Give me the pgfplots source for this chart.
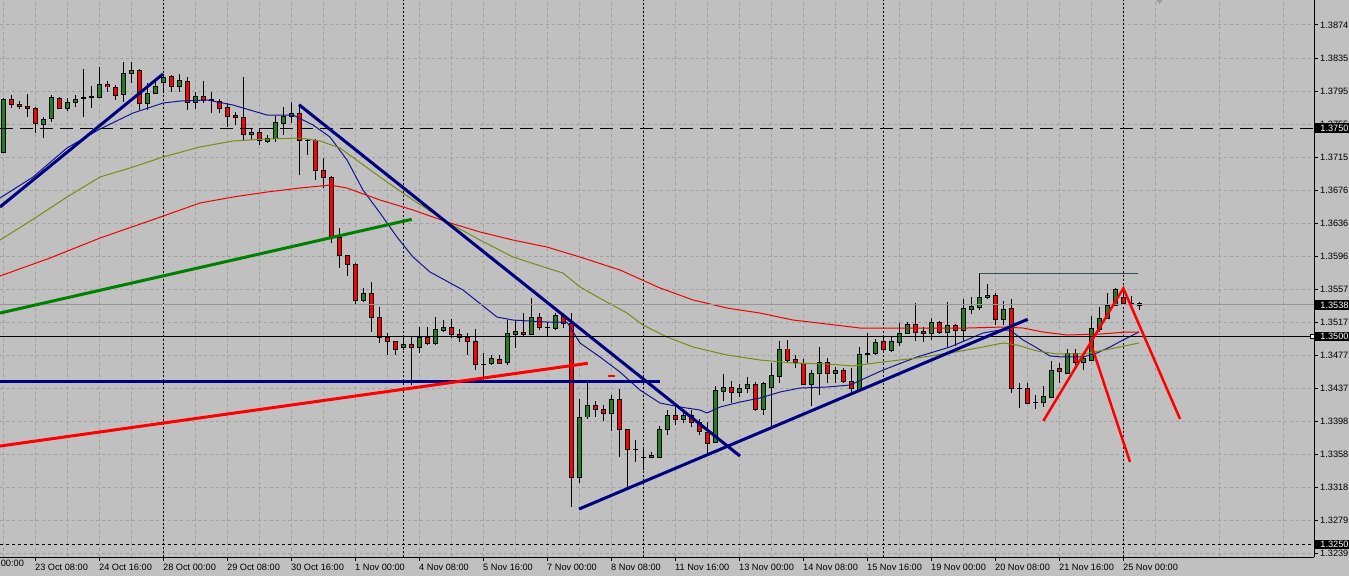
\documentclass[border=0pt]{standalone}
\usepackage{fontspec}
\setmainfont{Liberation Sans}
\usepackage{pgfplots}
\usepackage{pgfplotstable}
\pgfplotsset{compat=1.18}

\definecolor{bg}{RGB}{192,192,192}
\definecolor{gridc}{RGB}{160,160,160}
\definecolor{upc}{RGB}{30,130,30}
\definecolor{dnc}{RGB}{255,0,0}
\definecolor{ma1}{RGB}{20,20,150}
\definecolor{ma2}{RGB}{120,140,20}
\definecolor{ma3}{RGB}{240,0,0}
\definecolor{tl}{RGB}{0,0,128}
\definecolor{tg}{RGB}{0,128,0}
\definecolor{slate}{RGB}{47,79,79}
\definecolor{bidc}{RGB}{150,150,150}

% H4 candles, bullish (and doji)
\pgfplotstableread{
x o h l c
0 1.37214 1.37863 1.37202 1.37851
5 1.37550 1.37634 1.37382 1.37610
6 1.37610 1.37899 1.37574 1.37863
8 1.37742 1.37863 1.37706 1.37814
9 1.37814 1.37899 1.37754 1.37851
10 1.37865 1.38211 1.37634 1.37865
11 1.37875 1.38007 1.37742 1.37887
12 1.37875 1.38235 1.37863 1.38031
15 1.37911 1.38295 1.37814 1.38163
16 1.38163 1.38295 1.38043 1.38199
18 1.37802 1.38043 1.37718 1.37923
19 1.37923 1.38067 1.37923 1.38007
20 1.38055 1.38151 1.37935 1.38115
22 1.37995 1.38151 1.37935 1.38067
24 1.37814 1.37935 1.37730 1.37887
31 1.37430 1.37502 1.37358 1.37454
33 1.37346 1.37418 1.37322 1.37382
34 1.37382 1.37646 1.37334 1.37574
35 1.37562 1.37754 1.37418 1.37646
36 1.37646 1.37814 1.37562 1.37682
38 1.37358 1.37370 1.37178 1.37358
45 1.35436 1.35580 1.35412 1.35520
50 1.34871 1.34991 1.34835 1.34907
52 1.34871 1.35111 1.34799 1.34991
54 1.34919 1.35231 1.34895 1.35087
55 1.35075 1.35195 1.35051 1.35111
60 1.34667 1.34799 1.34474 1.34667
61 1.34667 1.34775 1.34655 1.34727
63 1.34679 1.35195 1.34655 1.35039
64 1.35027 1.35195 1.34859 1.35063
66 1.35027 1.35460 1.35015 1.35231
68 1.35111 1.35171 1.34991 1.35111
69 1.35099 1.35279 1.35075 1.35255
72 1.33309 1.34246 1.33237 1.34030
73 1.34030 1.34474 1.34006 1.34174
76 1.34078 1.34294 1.33862 1.34246
79 1.33645 1.33753 1.33489 1.33645
80 1.33549 1.33669 1.33393 1.33549
81 1.33549 1.33609 1.33549 1.33573
82 1.33549 1.33922 1.33549 1.33886
83 1.33886 1.34114 1.33814 1.34054
85 1.34006 1.34126 1.33958 1.34054
89 1.33729 1.34402 1.33729 1.34354
90 1.34342 1.34546 1.34222 1.34390
92 1.34330 1.34426 1.34270 1.34378
93 1.34378 1.34510 1.34318 1.34426
95 1.34126 1.34450 1.34054 1.34438
96 1.34390 1.34679 1.33910 1.34534
97 1.34522 1.34943 1.34438 1.34847
101 1.34426 1.34594 1.34162 1.34558
102 1.34558 1.34871 1.34294 1.34691
104 1.34558 1.34631 1.34438 1.34594
107 1.34354 1.34871 1.34354 1.34787
108 1.34787 1.35039 1.34679 1.34787
109 1.34787 1.34967 1.34775 1.34931
111 1.34835 1.34991 1.34811 1.34943
112 1.34931 1.35159 1.34883 1.35039
113 1.35039 1.35171 1.35027 1.35147
116 1.35039 1.35219 1.34955 1.35171
118 1.35051 1.35412 1.34871 1.35135
120 1.35075 1.35448 1.34931 1.35339
121 1.35327 1.35472 1.35267 1.35364
122 1.35352 1.35760 1.35315 1.35472
123 1.35472 1.35628 1.35448 1.35496
125 1.35207 1.35424 1.35135 1.35327
127 1.34378 1.34438 1.34138 1.34378
129 1.34210 1.34294 1.34126 1.34210
130 1.34210 1.34402 1.34150 1.34282
131 1.34270 1.34703 1.34258 1.34594
133 1.34558 1.34847 1.34558 1.34799
135 1.34691 1.34799 1.34594 1.34739
136 1.34715 1.35243 1.34703 1.35099
137 1.35087 1.35352 1.35051 1.35219
138 1.35219 1.35520 1.35207 1.35376
139 1.35376 1.35580 1.35364 1.35568
141 1.35400 1.35484 1.35364 1.35400
}\up

% bearish candles
\pgfplotstableread{
x o h l c
1 1.37851 1.37899 1.37742 1.37790
2 1.37790 1.37826 1.37730 1.37766
3 1.37766 1.37911 1.37634 1.37742
4 1.37742 1.37754 1.37442 1.37562
7 1.37863 1.37875 1.37730 1.37742
13 1.38019 1.38067 1.37935 1.37995
14 1.37995 1.38019 1.37839 1.37899
17 1.38199 1.38211 1.37718 1.37802
21 1.38127 1.38139 1.37935 1.38007
23 1.38067 1.38115 1.37718 1.37814
25 1.37887 1.38067 1.37802 1.37839
26 1.37839 1.37935 1.37682 1.37827
27 1.37827 1.37851 1.37682 1.37742
28 1.37754 1.37802 1.37514 1.37646
29 1.37658 1.37694 1.37538 1.37634
30 1.37634 1.38115 1.37358 1.37430
32 1.37454 1.37502 1.37298 1.37346
37 1.37682 1.37778 1.36937 1.37346
39 1.37358 1.37370 1.36877 1.36997
40 1.36997 1.37142 1.36781 1.36913
41 1.36913 1.36925 1.36120 1.36192
42 1.36192 1.36301 1.35820 1.35976
43 1.35976 1.35976 1.35724 1.35868
44 1.35868 1.35880 1.35388 1.35436
46 1.35520 1.35652 1.35051 1.35231
47 1.35231 1.35352 1.34919 1.34991
48 1.34991 1.35039 1.34775 1.34943
49 1.34943 1.34943 1.34775 1.34847
51 1.34907 1.34991 1.34414 1.34871
53 1.34991 1.35111 1.34895 1.34919
56 1.35111 1.35207 1.34979 1.35027
57 1.35027 1.35087 1.34931 1.34991
58 1.34991 1.35039 1.34775 1.34943
59 1.34943 1.35087 1.34594 1.34667
62 1.34727 1.34775 1.34667 1.34679
65 1.35051 1.35279 1.35003 1.35027
67 1.35231 1.35279 1.35075 1.35111
70 1.35255 1.35279 1.35099 1.35159
71 1.35159 1.35279 1.32948 1.33309
74 1.34174 1.34222 1.34030 1.34126
75 1.34126 1.34174 1.33982 1.34078
77 1.34246 1.34366 1.33549 1.33886
78 1.33886 1.33886 1.33177 1.33645
84 1.34054 1.34174 1.33934 1.34006
86 1.34054 1.34114 1.33910 1.33958
87 1.33958 1.34006 1.33814 1.33850
88 1.33850 1.33970 1.33597 1.33717
91 1.34390 1.34462 1.34198 1.34330
94 1.34426 1.34450 1.34102 1.34126
98 1.34847 1.34955 1.34679 1.34703
99 1.34727 1.34775 1.34618 1.34691
100 1.34679 1.34727 1.34414 1.34426
103 1.34691 1.34739 1.34438 1.34558
105 1.34594 1.34618 1.34438 1.34462
106 1.34462 1.34618 1.34318 1.34378
110 1.34943 1.34991 1.34811 1.34847
114 1.35147 1.35400 1.34943 1.35051
115 1.35063 1.35111 1.34931 1.35039
117 1.35171 1.35183 1.35027 1.35051
119 1.35135 1.35147 1.34883 1.35075
124 1.35496 1.35520 1.35135 1.35207
126 1.35339 1.35448 1.34318 1.34378
128 1.34378 1.34438 1.34186 1.34198
132 1.34607 1.34679 1.34438 1.34571
134 1.34799 1.34847 1.34655 1.34691
140 1.35472 1.35580 1.35376 1.35400
142 1.35400 1.35412 1.35315 1.35376
}\dn

\pgfplotsset{
  wick/.style={draw=none, mark=none, forget plot,
    error bars/.cd, y dir=both, y explicit, error mark=none,
    error bar style={draw=black, line width=1pt}},
  body/.style={draw=none, mark=none, forget plot,
    error bars/.cd, y dir=both, y explicit, error mark=none,
    error bar style={draw=#1, line width=5pt}},
  fillbody/.style={draw=none, mark=none, forget plot,
    error bars/.cd, y dir=both, y explicit, error mark=none,
    error bar style={draw=#1, line width=3pt}},
}

\begin{document}
\begin{tikzpicture}
\fill[bg] (0,0) rectangle (1349pt,576pt);
\begin{axis}[
  at={(0pt,19pt)}, anchor=south west,
  scale only axis, width=1314pt, height=557pt,
  xmin=-0.375, xmax=163.875,
  ymin=1.32348, ymax=1.39040,
  clip mode=individual,
  axis x line*=bottom, axis y line*=right,
  axis line style={-, black, line width=1pt},
  tick align=outside,
  xtick={4,12,...,140},
  xticklabels={23 Oct 08:00, 24 Oct 16:00, 28 Oct 00:00, 29 Oct 08:00, 30 Oct 16:00, 1 Nov 00:00, 4 Nov 08:00, 5 Nov 16:00, 7 Nov 00:00, 8 Nov 08:00, 11 Nov 16:00, 13 Nov 00:00, 14 Nov 08:00, 15 Nov 16:00, 19 Nov 00:00, 20 Nov 08:00, 21 Nov 16:00, 25 Nov 00:00},
  minor xtick={0,8,...,160},
  extra x ticks={20,50,80,110,140},
  extra x tick labels={},
  extra x tick style={grid=major, major grid style={black, line width=1pt, dash pattern=on 2pt off 2pt}, major tick length=0pt},
  ytick={1.32387,1.32784,1.33181,1.33578,1.33975,1.34372,1.34769,1.35166,1.35563,1.35960,1.36357,1.36754,1.37151,1.37548,1.37945,1.38343,1.38740},
  yticklabels={1.3239,1.3279,1.3318,1.3358,1.3398,1.3437,1.3477,1.3517,1.3557,1.3596,1.3636,1.3676,1.3715,1.3755,1.3795,1.3835,1.3874},
  scaled y ticks=false,
  xmajorgrids, xminorgrids, ymajorgrids,
  grid style={gridc, line width=1pt, dash pattern=on 3pt off 3pt},
  major tick length=4pt, minor tick length=0pt,
  tick style={black, line width=1pt},
  tick label style={font=\fontsize{9.2}{11}\selectfont, text=black},
  xticklabel style={anchor=north west, inner sep=0pt, yshift=-3pt},
  yticklabel style={anchor=west, inner sep=0pt, xshift=2pt},
]
% wicks
\addplot[wick] table[x=x, y expr={(\thisrow{h}+\thisrow{l})/2}, y error expr={(\thisrow{h}-\thisrow{l})/2}] {\up};
\addplot[wick] table[x=x, y expr={(\thisrow{h}+\thisrow{l})/2}, y error expr={(\thisrow{h}-\thisrow{l})/2}] {\dn};
% bodies: black outline, coloured inside
\addplot[body=black] table[x=x, y expr={(\thisrow{o}+\thisrow{c})/2}, y error expr={abs(\thisrow{c}-\thisrow{o})/2+0.00006}] {\up};
\addplot[fillbody=upc] table[x=x, y expr={(\thisrow{o}+\thisrow{c})/2}, y error expr={max(abs(\thisrow{c}-\thisrow{o})/2-0.00006,0)}] {\up};
\addplot[body=black] table[x=x, y expr={(\thisrow{o}+\thisrow{c})/2}, y error expr={abs(\thisrow{c}-\thisrow{o})/2+0.00006}] {\dn};
\addplot[fillbody=dnc] table[x=x, y expr={(\thisrow{o}+\thisrow{c})/2}, y error expr={max(abs(\thisrow{c}-\thisrow{o})/2-0.00006,0)}] {\dn};

% moving averages
\addplot[ma1, line width=1pt, mark=none] coordinates {
(-0.375,1.36661) (3.75,1.36913) (8,1.37262) (12.125,1.37490) (16.25,1.37682) (20,1.37802) (22.125,1.37826) (25.5,1.37839) (28.75,1.37778) (33,1.37658) (36.25,1.37658) (38.75,1.37538) (40.875,1.37394) (43,1.37118) (45,1.36757) (47.125,1.36481) (49.25,1.36192) (51.25,1.35952) (53.375,1.35772) (57.5,1.35556) (61.75,1.35231) (63.75,1.35195) (68,1.35171) (70.5,1.35171) (72.125,1.34919) (74.625,1.34751) (77.125,1.34570) (79.625,1.34354) (82.125,1.34198) (84.625,1.34150) (87.125,1.34114) (88,1.34078) (89.625,1.34150) (92.125,1.34210) (94.625,1.34258) (97.125,1.34330) (99.625,1.34378) (103,1.34390) (105.875,1.34414) (110,1.34594) (114.25,1.34751) (118.375,1.34871) (122.5,1.35039) (124.625,1.35075) (125.875,1.35075) (127.5,1.34955) (129.25,1.34859) (130.875,1.34763) (132.5,1.34751) (135,1.34751) (136.75,1.34799) (138.375,1.34871) (140,1.34955) (142,1.35051)};
\addplot[ma2, line width=1pt, mark=none] coordinates {
(-0.375,1.36156) (3.625,1.36397) (8,1.36673) (12.125,1.36913) (16.25,1.37033) (20,1.37154) (24.625,1.37274) (28.75,1.37346) (33,1.37370) (37.125,1.37382) (39.625,1.37346) (42.125,1.37262) (47.125,1.36913) (51.25,1.36637) (55.5,1.36373) (59.625,1.36156) (63.75,1.35952) (68,1.35820) (70,1.35760) (72.125,1.35592) (75,1.35436) (78,1.35279) (80,1.35135) (83,1.34991) (86.25,1.34871) (90.5,1.34775) (94.625,1.34715) (98.75,1.34679) (103,1.34667) (106.25,1.34643) (110,1.34691) (114.25,1.34739) (118.375,1.34799) (122.5,1.34871) (125,1.34919) (126.75,1.34895) (129.25,1.34823) (131.75,1.34787) (135,1.34787) (138.375,1.34847) (142,1.34919)};
\addplot[ma3, line width=1pt, mark=none] coordinates {
(-0.375,1.35724) (5.875,1.35940) (12.125,1.36180) (18.625,1.36397) (24.625,1.36601) (28.75,1.36673) (33,1.36733) (37.125,1.36781) (40.875,1.36817) (43,1.36781) (47.125,1.36637) (51.25,1.36517) (55.5,1.36373) (59.625,1.36253) (63.75,1.36156) (68,1.36072) (72.125,1.35952) (77.125,1.35796) (82.125,1.35580) (86.25,1.35436) (90.5,1.35339) (94.625,1.35279) (98.75,1.35195) (103,1.35147) (107.125,1.35099) (114.25,1.35099) (120.5,1.35099) (125,1.35111) (127.5,1.35099) (130,1.35051) (133,1.35015) (137.125,1.35027) (140.5,1.35051) (142,1.35051)};

% horizontal levels
\addplot[black, line width=1pt, dash pattern=on 13pt off 7pt] coordinates {(-0.375,1.3750) (163.875,1.3750)};
\addplot[black, line width=1pt, dash pattern=on 3pt off 3pt] coordinates {(-0.375,1.3250) (163.875,1.3250)};
\addplot[bidc, line width=1pt] coordinates {(-0.375,1.35376) (163.875,1.35376)};
\addplot[black, line width=1pt] coordinates {(-0.375,1.3500) (163.875,1.3500)};

% trend lines
\addplot[tl, line width=3pt] coordinates {(-0.375,1.36553) (20,1.38151)};
\addplot[tl, line width=3pt] coordinates {(37,1.37782) (92.125,1.33561)};
\addplot[tg, line width=3pt] coordinates {(-0.375,1.35279) (51.09,1.36405)};
\addplot[tl, line width=3pt] coordinates {(-0.375,1.34454) (82.125,1.34454)};
\addplot[red, line width=3pt] coordinates {(-0.375,1.33681) (73.09,1.34675)};
\addplot[red, line width=1.5pt] coordinates {(75.6,1.34522) (76.5,1.34522)};
\addplot[tl, line width=3pt] coordinates {(72,1.32924) (128.09,1.35204)};
\addplot[slate, line width=1pt] coordinates {(122,1.35760) (141.875,1.35760)};
\addplot[red, line width=2.5pt] coordinates {(130.04,1.33982) (140.04,1.35576) (147.125,1.34006)};
\addplot[red, line width=2.5pt] coordinates {(135.875,1.34943) (140.875,1.33489)};

% cut-off first time label, shift marker, price labels
\node[anchor=north west, inner sep=0pt, yshift=-3pt, font=\fontsize{9.2}{11}\selectfont] at (axis cs:-4,1.32348) {22 Oct 00:00};
\fill[gridc] (axis cs:144.1,1.3904) -- (axis cs:145.0,1.3904) -- (axis cs:144.55,1.38992) -- cycle;
\node[draw=black, fill=white, line width=1pt, minimum size=4pt, inner sep=0pt, xshift=-2pt] at (axis cs:163.875,1.3500) {};
\node[anchor=west, fill=black, text=white, inner xsep=5.7pt, inner ysep=1.5pt, xshift=0.5pt, font=\fontsize{9.2}{11}\selectfont] at (axis cs:163.875,1.3750) {1.3750};
\node[anchor=west, fill=black, text=white, inner xsep=5.7pt, inner ysep=1.5pt, xshift=0.5pt, font=\fontsize{9.2}{11}\selectfont] at (axis cs:163.875,1.35376) {1.3538};
\node[anchor=west, fill=black, text=white, inner xsep=5.7pt, inner ysep=1.5pt, xshift=0.5pt, font=\fontsize{9.2}{11}\selectfont] at (axis cs:163.875,1.3500) {1.3500};
\node[anchor=west, fill=black, text=white, inner xsep=5.7pt, inner ysep=1.5pt, xshift=0.5pt, font=\fontsize{9.2}{11}\selectfont] at (axis cs:163.875,1.3250) {1.3250};
\end{axis}
\pgfresetboundingbox
\useasboundingbox (0,0) rectangle (1349pt,576pt);
\end{tikzpicture}
\end{document}
